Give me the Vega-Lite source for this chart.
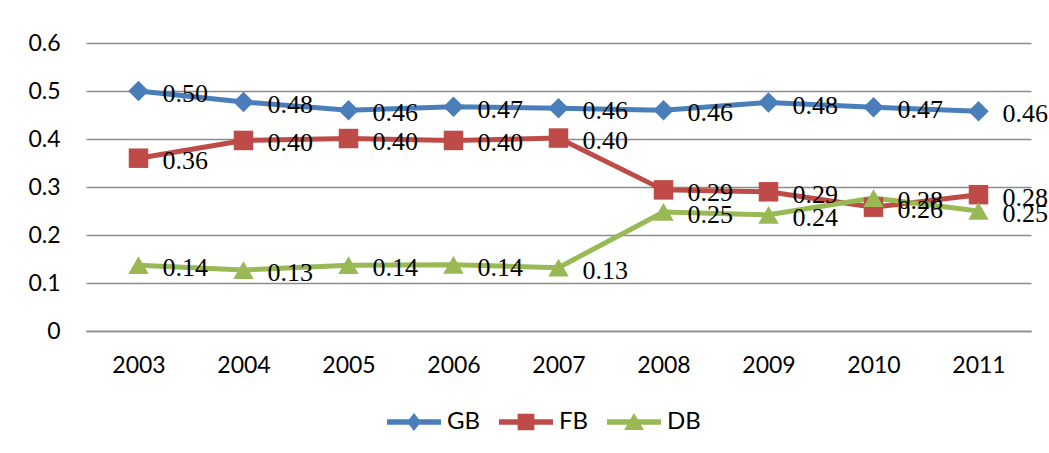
{
  "$schema": "https://vega.github.io/schema/vega-lite/v6.json",
  "width": 945,
  "height": 288,
  "autosize": "none",
  "padding": {"left": 86, "top": 43, "right": 18, "bottom": 122},
  "background": "white",
  "config": {
    "view": {"stroke": null},
    "axis": {"labelFont": "Lato", "labelFontSize": 23, "labelColor": "#000000", "title": null, "ticks": false}
  },
  "data": {
    "values": [
      {"year": "2003", "series": "GB", "value": 0.500},
      {"year": "2004", "series": "GB", "value": 0.477},
      {"year": "2005", "series": "GB", "value": 0.460},
      {"year": "2006", "series": "GB", "value": 0.467},
      {"year": "2007", "series": "GB", "value": 0.464},
      {"year": "2008", "series": "GB", "value": 0.460},
      {"year": "2009", "series": "GB", "value": 0.476},
      {"year": "2010", "series": "GB", "value": 0.466},
      {"year": "2011", "series": "GB", "value": 0.458},
      {"year": "2003", "series": "FB", "value": 0.360},
      {"year": "2004", "series": "FB", "value": 0.397},
      {"year": "2005", "series": "FB", "value": 0.401},
      {"year": "2006", "series": "FB", "value": 0.397},
      {"year": "2007", "series": "FB", "value": 0.402},
      {"year": "2008", "series": "FB", "value": 0.294},
      {"year": "2009", "series": "FB", "value": 0.290},
      {"year": "2010", "series": "FB", "value": 0.258},
      {"year": "2011", "series": "FB", "value": 0.284},
      {"year": "2003", "series": "DB", "value": 0.137},
      {"year": "2004", "series": "DB", "value": 0.127},
      {"year": "2005", "series": "DB", "value": 0.137},
      {"year": "2006", "series": "DB", "value": 0.138},
      {"year": "2007", "series": "DB", "value": 0.132},
      {"year": "2008", "series": "DB", "value": 0.248},
      {"year": "2009", "series": "DB", "value": 0.242},
      {"year": "2010", "series": "DB", "value": 0.277},
      {"year": "2011", "series": "DB", "value": 0.250}
    ]
  },
  "encoding": {
    "x": {
      "field": "year",
      "type": "ordinal",
      "scale": {"type": "point", "padding": 0.5},
      "axis": {"labelAngle": 0, "labelPadding": 23, "domain": true, "domainColor": "#8c8c8c", "domainWidth": 1.5, "grid": false}
    },
    "y": {
      "field": "value",
      "type": "quantitative",
      "scale": {"domain": [0, 0.6], "nice": false},
      "axis": {"values": [0, 0.1, 0.2, 0.3, 0.4, 0.5, 0.6], "format": ".1~f", "domain": false, "grid": true, "gridColor": "#8c8c8c", "gridWidth": 1.5, "labelPadding": 26}
    },
    "color": {
      "field": "series",
      "type": "nominal",
      "scale": {"domain": ["GB", "FB", "DB"], "range": ["#4a7ebb", "#be4b48", "#98b954"]},
      "legend": {
        "orient": "none",
        "legendX": 301,
        "legendY": 352,
        "direction": "horizontal",
        "title": null,
        "padding": 0,
        "symbolSize": 2916,
        "symbolStrokeWidth": 0,
        "symbolOpacity": 1,
        "labelFont": "Lato",
        "labelFontSize": 24,
        "labelColor": "#000000",
        "labelOffset": 6,
        "columnPadding": 18,
        "encode": {
          "symbols": {
            "update": {
              "shape": {"signal": "datum.value === 'GB' ? 'M-1,-0.1H1V0.1H-1Z M0,-0.33L0.26,0L0,0.33L-0.26,0Z' : datum.value === 'FB' ? 'M-1,-0.1H1V0.1H-1Z M-0.31,-0.31H0.31V0.31H-0.31Z' : 'M-1,-0.1H1V0.1H-1Z M0,-0.33L0.37,0.3L-0.37,0.3Z'"},
              "fill": {"scale": "color", "field": "value"},
              "strokeWidth": {"value": 0}
            }
          }
        }
      }
    }
  },
  "layer": [
    {"mark": {"type": "line", "strokeWidth": 5}},
    {"transform": [{"filter": "datum.series === 'GB'"}], "mark": {"type": "point", "shape": "diamond", "filled": true, "opacity": 1, "size": 420}},
    {"transform": [{"filter": "datum.series === 'FB'"}], "mark": {"type": "point", "shape": "square", "filled": true, "opacity": 1, "size": 380}},
    {"transform": [{"filter": "datum.series === 'DB'"}], "mark": {"type": "point", "shape": "triangle-up", "filled": true, "opacity": 1, "size": 420}},
    {
      "mark": {"type": "text", "align": "left", "baseline": "middle", "dx": 24, "dy": 3, "font": "Liberation Serif", "fontSize": 26, "color": "#000000"},
      "encoding": {"text": {"field": "value", "type": "quantitative", "format": ".2f"}, "color": {"value": "#000000"}}
    }
  ]
}
